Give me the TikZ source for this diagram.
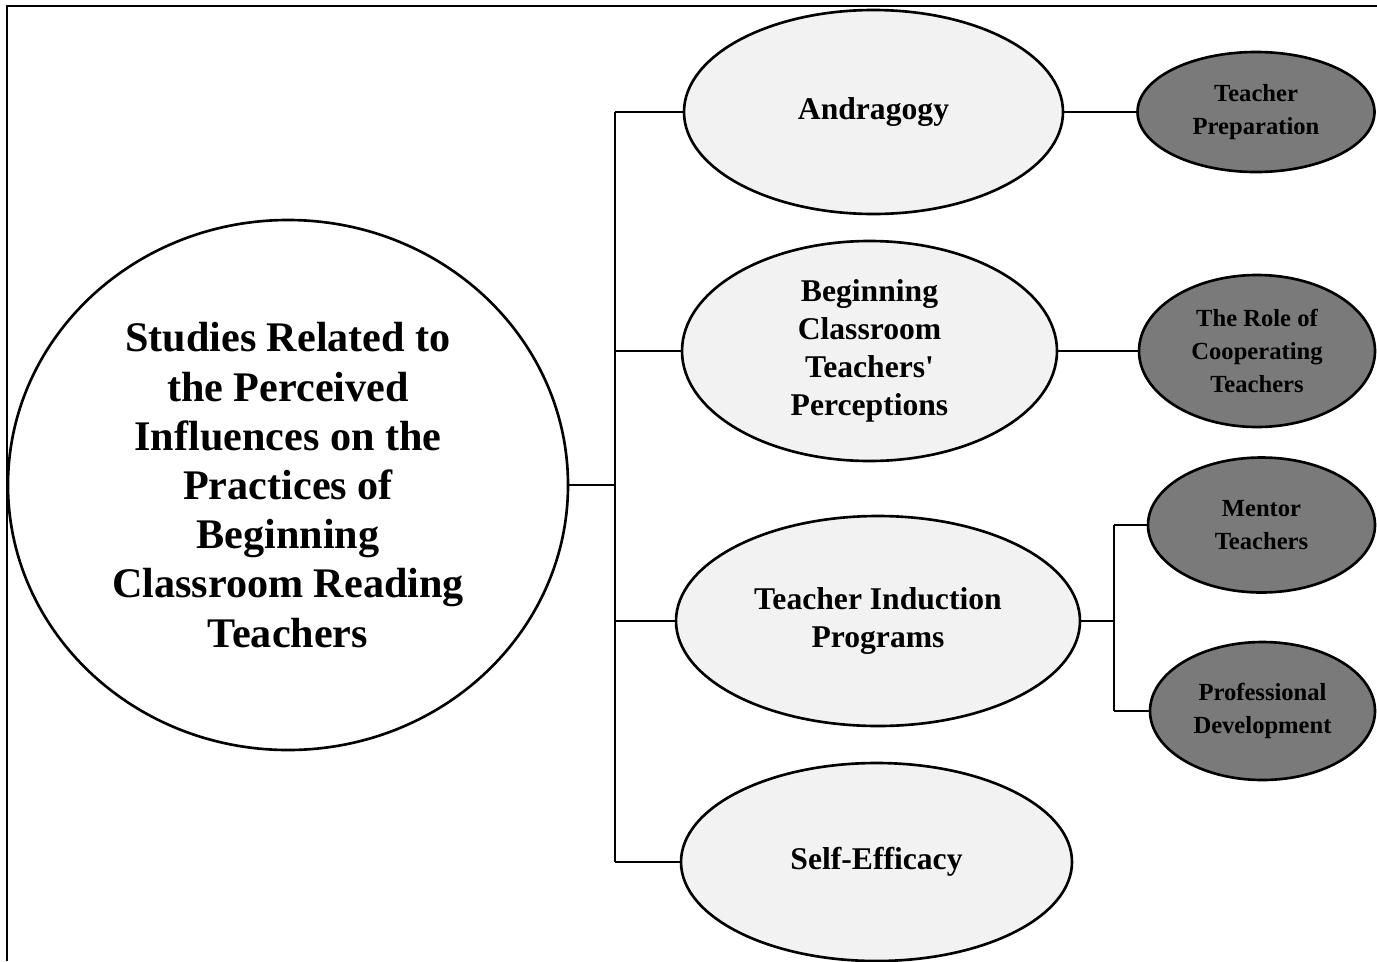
\documentclass[tikz,border=0pt]{standalone}
\usepackage{fontspec}
\setmainfont{Liberation Serif}
\usetikzlibrary{positioning,shapes.geometric}
\tikzset{
	topic/.style={draw, ellipse, line width=1.5pt, fill=black!5, inner sep=0pt, align=center, font=\bfseries\fontsize{18}{21.6}\selectfont},
	subtopic/.style={draw, ellipse, line width=1.5pt, fill=black!52, inner sep=0pt, align=center, font=\bfseries\fontsize{14}{18.6}\selectfont},
	link/.style={line width=1.3pt}
}
\newcommand{\frameedge}{\draw[line width=1.4pt] (0.14,-19.22) -- (0.14,-0.12) -- (27.54,-0.12);}

\begin{document}
\begin{tikzpicture}

					\useasboundingbox (0,0) rectangle (27.54,-19.22);
					\fill[white] (0,0) rectangle (27.54,-19.22);

					\frameedge

					\node[draw, ellipse, line width=1.5pt, minimum width=11.2cm, minimum height=10.6cm, inner sep=0pt, align=center, font=\bfseries\fontsize{24}{28}\selectfont] (studies) at (5.76,-9.7)
						{Studies Related to\\the Perceived\\Influences on the\\Practices of\\Beginning\\Classroom Reading\\Teachers};

					\node[topic, minimum width=7.58cm, minimum height=4.08cm] (andragogy) at (17.47,-2.24) {Andragogy};
					\node[topic, minimum width=7.5cm, minimum height=4.4cm] (perceptions) at (17.39,-7.02) {Beginning\\Classroom\\Teachers\textquotesingle\\Perceptions};
					\node[topic, minimum width=8.08cm, minimum height=4.2cm] (induction) at (17.56,-12.42) {Teacher Induction\\Programs};
					\node[topic, minimum width=7.82cm, minimum height=3.96cm] (efficacy) at (17.53,-17.24) {Self-Efficacy};

					\node[subtopic, minimum width=4.74cm, minimum height=2.4cm] (preparation) at (25.12,-2.24) {Teacher\\Preparation};
					\node[subtopic, minimum width=4.72cm, minimum height=3.04cm] (cooperating) at (25.14,-7.02) {The Role of\\Cooperating\\Teachers};
					\node[subtopic, minimum width=4.54cm, minimum height=2.7cm] (mentor) at (25.23,-10.5) {Mentor\\Teachers};
					\node[subtopic, minimum width=4.5cm, minimum height=2.76cm] (development) at (25.25,-14.22) {Professional\\Development};

					\coordinate (trunk) at (12.3,-9.68);
					\coordinate (branch) at (22.28,-12.42);

					\draw[link] (studies.east) -- (studies.east -| trunk);
					\draw[link] (trunk |- andragogy.west) -- (trunk |- efficacy.west);
					\draw[link] (trunk |- andragogy.west) -- (andragogy.west);
					\draw[link] (trunk |- perceptions.west) -- (perceptions.west);
					\draw[link] (trunk |- induction.west) -- (induction.west);
					\draw[link] (trunk |- efficacy.west) -- (efficacy.west);

					\draw[link] (andragogy.east) -- (preparation.west);
					\draw[link] (perceptions.east) -- (cooperating.west);

					\draw[link] (induction.east) -- (branch);
					\draw[link] (branch |- mentor.west) -- (branch |- development.west);
					\draw[link] (branch |- mentor.west) -- (mentor.west);
					\draw[link] (branch |- development.west) -- (development.west);

				\end{tikzpicture}
\end{document}
